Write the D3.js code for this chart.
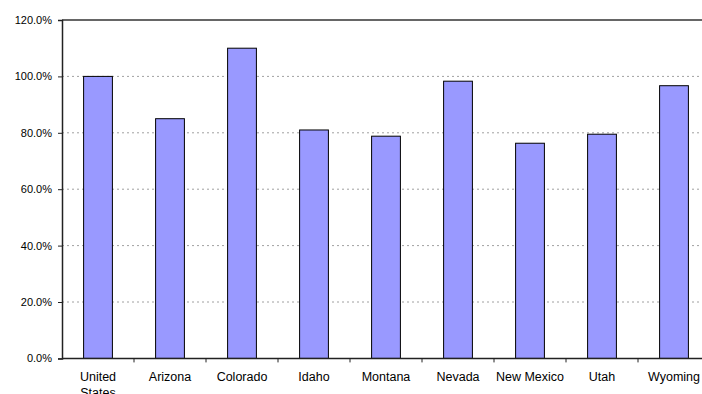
<!DOCTYPE html>
<html><head><meta charset="utf-8">
<script src="https://cdn.jsdelivr.net/npm/d3@7"></script>
<style>body{margin:0;background:#fff;overflow:hidden}svg{display:block}</style>
</head><body>
<svg id="c" width="702" height="394"></svg>
<script>
const categories = [["United","States"],["Arizona"],["Colorado"],["Idaho"],["Montana"],["Nevada"],["New Mexico"],["Utah"],["Wyoming"]];
const values = [100.0, 85.0, 110.0, 81.0, 78.8, 98.3, 76.3, 79.5, 96.7];
const yTicks = [0, 20, 40, 60, 80, 100, 120];

const svg = d3.select("#c");
const mLeft = 62, mRight = 710, mTop = 20, mBottom = 358.4;
const keys = categories.map(c => c.join(" "));
const x = d3.scaleBand().domain(keys).range([mLeft, mRight]).paddingInner(0.6).paddingOuter(0.3);
const xEdge = d3.scaleLinear().domain([0, categories.length]).range([mLeft, mRight]);
const y = d3.scaleLinear().domain([0, 120]).range([mBottom, mTop]);

// gridlines
svg.append("g").selectAll("line").data(yTicks.filter(t => t > 0 && t < 120)).join("line")
  .attr("x1", mLeft).attr("x2", mRight).attr("y1", d => y(d)).attr("y2", d => y(d))
  .attr("stroke", "#a0a0a0").attr("stroke-width", 1).attr("stroke-dasharray", "2,3");

// top border
svg.append("line").attr("x1", mLeft).attr("x2", mRight).attr("y1", y(120)).attr("y2", y(120))
  .attr("stroke", "#333").attr("stroke-width", 1.3);

// bars
svg.append("g").selectAll("rect").data(values).join("rect")
  .attr("x", (d, i) => x(keys[i])).attr("width", x.bandwidth())
  .attr("y", d => y(d)).attr("height", d => y(0) - y(d))
  .attr("fill", "#9999ff").attr("stroke", "#000").attr("stroke-width", 1);

// y axis
const yAxis = d3.axisLeft(y).tickValues(yTicks).tickFormat(d => d.toFixed(1) + "%").tickSize(4).tickPadding(6);
const gy = svg.append("g").attr("transform", `translate(${mLeft},0)`).call(yAxis);
gy.select(".domain").attr("stroke", "#222").attr("stroke-width", 1.5);
gy.selectAll(".tick line").attr("stroke", "#222");
gy.selectAll("text").attr("font-family", "Liberation Sans, Arial, sans-serif").attr("font-size", 11).attr("fill", "#000");

// x axis
const gx = svg.append("g").attr("transform", `translate(0,${mBottom})`);
gx.append("line").attr("x1", mLeft).attr("x2", mRight).attr("stroke", "#222").attr("stroke-width", 1.5);
gx.selectAll(".tk").data(d3.range(1, categories.length)).join("line").attr("class", "tk")
  .attr("x1", d => xEdge(d)).attr("x2", d => xEdge(d)).attr("y1", 0).attr("y2", 4)
  .attr("stroke", "#222");
const lbl = gx.selectAll(".lb").data(categories).join("text").attr("class", "lb")
  .attr("text-anchor", "middle").attr("font-family", "Liberation Sans, Arial, sans-serif")
  .attr("font-size", 12.5).attr("fill", "#000")
  .attr("transform", (d, i) => `translate(${x(keys[i]) + x.bandwidth() / 2},0)`);
lbl.selectAll("tspan").data(d => d).join("tspan")
  .attr("x", 0).attr("y", (d, i) => 23 + i * 16).text(d => d);
</script>
</body></html>
